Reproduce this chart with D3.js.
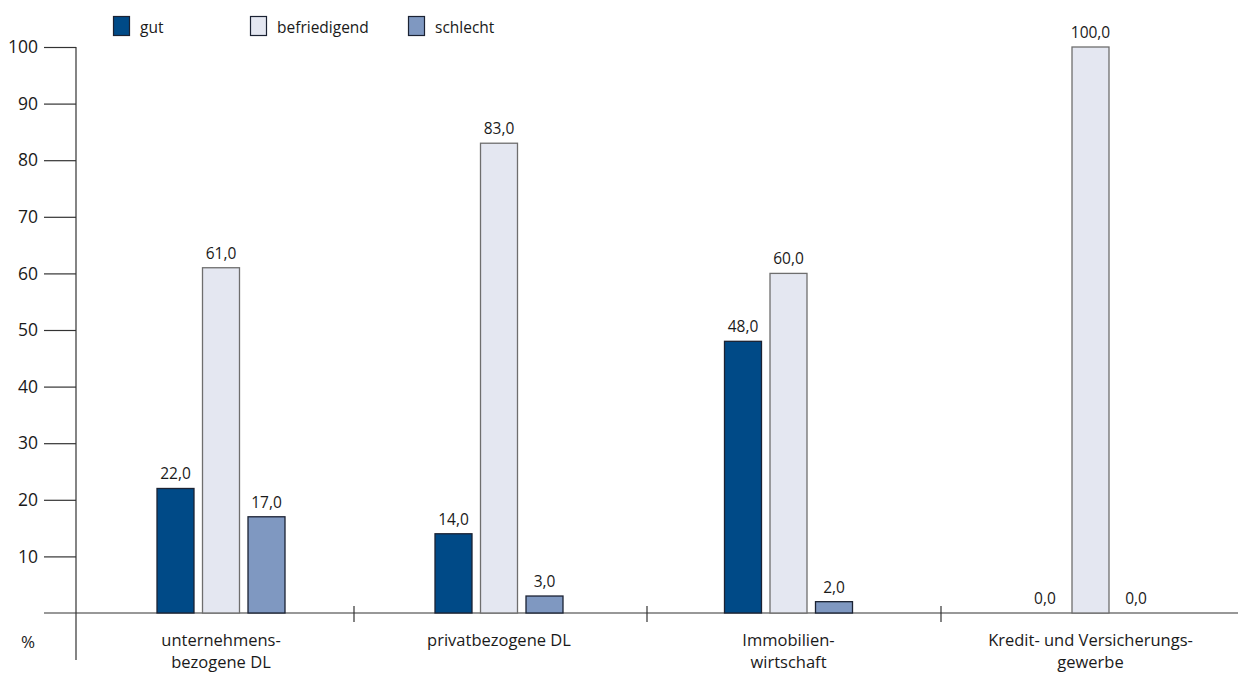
<!DOCTYPE html>
<html><head><meta charset="utf-8">
<script src="https://cdn.jsdelivr.net/npm/d3@7"></script>
<style>body{margin:0;background:#fff}svg{display:block}text{font-family:"Open Sans","DejaVu Sans",sans-serif;fill:#1a1a1a}</style>
</head><body><svg id="c" width="1238" height="675"></svg>
<script>
const categories = [["unternehmens-","bezogene DL"],["privatbezogene DL"],["Immobilien-","wirtschaft"],["Kredit- und Versicherungs-","gewerbe"]];
const series = ["gut","befriedigend","schlecht"];
const gut = [22,14,48,0];
const befriedigend = [61,83,60,100];
const schlecht = [17,3,2,0];
const yTicks = [10,20,30,40,50,60,70,80,90,100];
const colors = ["#004a87","#e4e7f1","#7f98c1"];
const strokes = ["#1b2233","#6e6e6e","#1b2233"];

const values = [gut, befriedigend, schlecht];
const svg = d3.select("#c");
const y = d3.scaleLinear().domain([0,100]).range([613,47]);
const idx = d3.range(categories.length);
const x0 = d3.scaleOrdinal().domain(idx).range([221,499,788.5,1090.5]);
const x1 = d3.scaleBand().domain(series).range([-64.5,64.5]).paddingInner(0.165).paddingOuter(0);
const fmt = v => d3.format(".1f")(v).replace(".",",");

// y axis
const yAxis = d3.axisLeft(y).tickValues(yTicks).tickSize(32).tickPadding(6).tickFormat(d3.format("d"));
const gy = svg.append("g").attr("transform","translate(76,0)").call(yAxis);
gy.select(".domain").remove();
gy.selectAll("line").attr("stroke","#333").attr("stroke-width",1.2);
gy.selectAll("text").attr("font-size",17.5).attr("fill","#1a1a1a").style("font-family","'Open Sans',sans-serif");
svg.append("line").attr("x1",76).attr("x2",76).attr("y1",y(100)).attr("y2",660).attr("stroke","#333").attr("stroke-width",1.2);
svg.append("line").attr("x1",44).attr("x2",1238).attr("y1",y(0)).attr("y2",y(0)).attr("stroke","#333").attr("stroke-width",1.2);
svg.append("text").attr("x",28).attr("y",648).attr("text-anchor","middle").attr("font-size",17).text("%");

// separators
const sepShift = [-6,3.25,1.5];
for (let i=0;i<idx.length-1;i++){
  const sx = (x0(i)+x0(i+1))/2 + sepShift[i];
  svg.append("line").attr("x1",sx).attr("x2",sx).attr("y1",606).attr("y2",622).attr("stroke","#333").attr("stroke-width",1.2);
}

// bars
const g = svg.append("g");
idx.forEach(i=>{
  series.forEach((s,j)=>{
    const v = values[j][i];
    const bx = x0(i)+x1(s);
    if (v>0){
      g.append("rect").attr("x",bx+0.5).attr("y",y(v)).attr("width",x1.bandwidth()-1).attr("height",y(0)-y(v))
        .attr("fill",colors[j]).attr("stroke",strokes[j]).attr("stroke-width",1.3);
    }
    g.append("text").attr("x",bx+x1.bandwidth()/2).attr("y",y(v)-9).attr("text-anchor","middle").attr("font-size",15.5).text(fmt(v));
  });
  const t = svg.append("text").attr("text-anchor","middle").attr("font-size",16.5);
  categories[i].forEach((line,k)=>{
    t.append("tspan").attr("x",x0(i)).attr("y",646+k*22).text(line);
  });
});

// legend
const legX = [113,250,408];
series.forEach((s,j)=>{
  svg.append("rect").attr("x",legX[j]+0.5).attr("y",16.5).attr("width",16).attr("height",19).attr("fill",colors[j]).attr("stroke","#1b2233").attr("stroke-width",1.2);
  svg.append("text").attr("x",legX[j]+27).attr("y",33).attr("font-size",15.5).text(s);
});
</script></body></html>
